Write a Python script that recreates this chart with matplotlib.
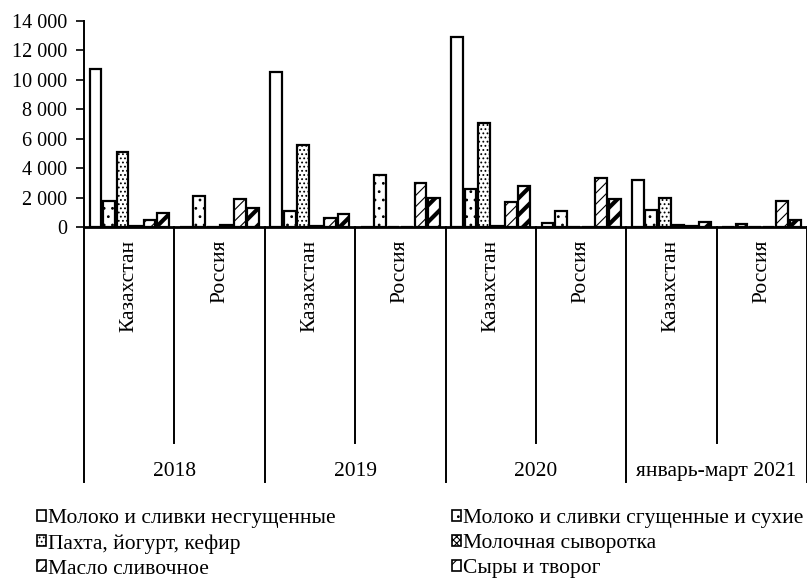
import numpy as np
import matplotlib
matplotlib.use("Agg")
import matplotlib.pyplot as plt
from matplotlib.ticker import FuncFormatter
from matplotlib.patches import Patch

plt.rcParams['font.family'] = ['Liberation Serif', 'DejaVu Serif']
plt.rcParams['hatch.linewidth'] = 0.8

# ----------------------------
# DATA
# ----------------------------
countries = ["Казахстан", "Россия", "Казахстан", "Россия",
             "Казахстан", "Россия", "Казахстан", "Россия"]
periods = ["2018", "2019", "2020", "январь-март 2021"]

series_names = [
    "Молоко и сливки несгущенные",
    "Молоко и сливки сгущенные и сухие",
    "Пахта, йогурт, кефир",
    "Молочная сыворотка",
    "Масло сливочное",
    "Сыры и творог",
]
milk_fresh = [10750, 0, 10500, 0, 12900, 300, 3200, 0]
milk_condensed = [1800, 2100, 1100, 3500, 2600, 1100, 1150, 200]
kefir = [5100, 0, 5600, 0, 7100, 0, 2000, 0]
whey = [100, 150, 100, 0, 50, 0, 150, 0]
butter = [500, 1900, 600, 3000, 1700, 3300, 50, 1800]
cheese = [950, 1300, 900, 2000, 2800, 1900, 350, 500]
all_series = [milk_fresh, milk_condensed, kefir, whey, butter, cheese]

hatches = [None, '..', '....', 'xxxxx', '///', '//']
hatch_lw = [0.8, 0.8, 0.8, 0.8, 0.8, 3.0]
FS = 15.5

# ----------------------------
# PLOT
# ----------------------------
fig = plt.figure(figsize=(8.07, 5.80), dpi=100)
ax = fig.add_axes([84 / 807, 1 - 227 / 580, 1 - 84 / 807, 206 / 580])

x = np.arange(len(countries)) + 0.5
pitch = 0.149
width = 0.13
handles = []
for k, vals in enumerate(all_series):
    bars = ax.bar(x + (k - 2.5) * pitch, vals, width, color='white',
                  edgecolor='black', linewidth=1.6, hatch=hatches[k])
    for b in bars:
        try:
            b.set_hatch_linewidth(hatch_lw[k])
        except AttributeError:
            pass
    h = Patch(facecolor='white', edgecolor='black', linewidth=1.2, hatch=hatches[k])
    try:
        h.set_hatch_linewidth(hatch_lw[k])
    except AttributeError:
        pass
    handles.append(h)

ax.set_xlim(0, len(countries))
ax.set_ylim(0, 14000)
ax.set_yticks(np.arange(0, 14001, 2000))
ax.yaxis.set_major_formatter(FuncFormatter(lambda v, p: f"{int(v):,}".replace(",", " ")))
ax.tick_params(axis='y', direction='out', length=6, width=1.2, labelsize=14.5, pad=6)
ax.set_xticks([])
for s in ['top', 'right']:
    ax.spines[s].set_visible(False)
ax.spines['left'].set_linewidth(1.4)
ax.spines['bottom'].set_linewidth(2.0)

# multi-level category axis
trans = ax.get_xaxis_transform()
for i, name in enumerate(countries):
    ax.text(x[i], -0.063, name, rotation=90, ha='center', va='top',
            fontsize=FS, transform=trans)
for i in range(len(countries) + 1):
    bottom = -1.238 if i % 2 == 0 else -1.049
    ax.plot([i, i], [0, bottom], color='black', lw=1.4, transform=trans, clip_on=False)
for j, p in enumerate(periods):
    ax.text(2 * j + 1, -1.185, p, ha='center', va='center', fontsize=FS, transform=trans)

# legend, row-major order
order = [0, 2, 4, 1, 3, 5]
fig.legend([handles[i] for i in order], [series_names[i] for i in order],
           loc='upper left', bbox_to_anchor=(37 / 807, 1 - 509 / 580), ncol=2,
           frameon=False, fontsize=FS, handlelength=0.42, handleheight=0.42,
           handletextpad=0.1, columnspacing=5.4, labelspacing=0.28,
           borderpad=0, borderaxespad=0)

fig.savefig("out.png", dpi=100)
